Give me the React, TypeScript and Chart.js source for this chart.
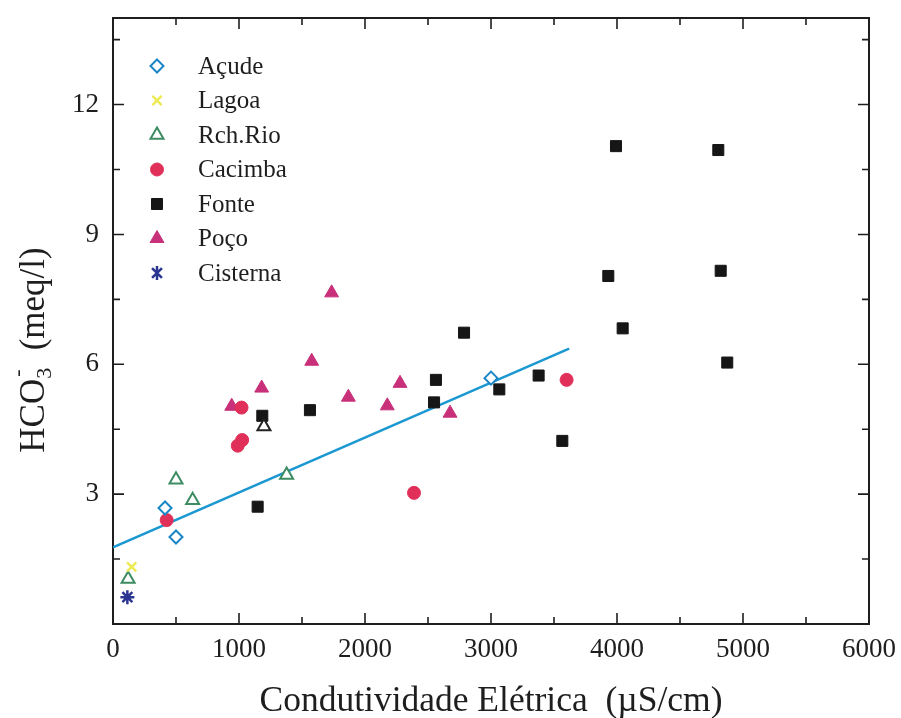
import React, { useEffect, useRef } from 'react';
import { Chart, registerables } from 'chart.js';

Chart.register(...registerables);

// ---- data ----
const xTickValues = [0, 1000, 2000, 3000, 4000, 5000, 6000];
const yTickValues = [3, 6, 9, 12];

const acudeX = [413, 500, 3000];
const acudeY = [2.68, 2.01, 5.68];

const lagoaX = [148];
const lagoaY = [1.32];

const rioX = [120, 500, 632, 1378, 1198];
const rioY = [1.04, 3.33, 2.86, 3.44, 4.56];

const cacimbaX = [426, 990, 1025, 1020, 2389, 3600];
const cacimbaY = [2.40, 4.12, 4.25, 5.00, 3.03, 5.64];

const fonteX = [1148, 1185, 1563, 2563, 2548, 2786, 3066, 3378, 3566, 3992, 4804, 3931, 4823, 4045, 4875];
const fonteY = [2.71, 4.81, 4.94, 5.64, 5.12, 6.73, 5.42, 5.74, 4.23, 11.04, 10.95, 8.04, 8.16, 6.83, 6.04];

const pocoX = [942, 1180, 1577, 1868, 2177, 1735, 2278, 2675];
const pocoY = [5.03, 5.45, 6.07, 5.24, 5.04, 7.65, 5.56, 4.87];

const cisternaX = [114];
const cisternaY = [0.62];

const fitX = [0, 3620];
const fitY = [1.77, 6.36];

const seriesNames = ['Açude', 'Lagoa', 'Rch.Rio', 'Cacimba', 'Fonte', 'Poço', 'Cisterna'];

const xTitle = 'Condutividade Elétrica  (µS/cm)';

const SERIF = "'Liberation Serif', 'Times New Roman', serif";
const INK = '#1e1e1e';

const pts = (xs: number[], ys: number[]) => xs.map((x, i) => ({ x, y: ys[i] }));

type MarkerSpec = { style: string; r: number; fill: string; stroke: string; lw: number };

const markers: MarkerSpec[] = [
  { style: 'rectRot', r: 6.5, fill: '#ffffff', stroke: '#1b86c6', lw: 2 },
  { style: 'crossRot', r: 6.5, fill: '#ecea55', stroke: '#ecea55', lw: 2.5 },
  { style: 'triangle', r: 7.5, fill: '#ffffff', stroke: '#3d8c62', lw: 2 },
  { style: 'circle', r: 6.5, fill: '#e0305a', stroke: '#e0305a', lw: 1 },
  { style: 'rect', r: 7.8, fill: '#161616', stroke: '#161616', lw: 1 },
  { style: 'triangle', r: 8, fill: '#c8307a', stroke: '#c8307a', lw: 1 },
  { style: 'star', r: 7, fill: '#2a3592', stroke: '#2a3592', lw: 2.5 },
];

function drawMarker(ctx: CanvasRenderingContext2D, m: MarkerSpec, x: number, y: number) {
  const r = m.r;
  ctx.save();
  ctx.lineWidth = m.lw;
  ctx.strokeStyle = m.stroke;
  ctx.fillStyle = m.fill;
  ctx.beginPath();
  switch (m.style) {
    case 'rectRot':
      ctx.moveTo(x, y - r);
      ctx.lineTo(x + r, y);
      ctx.lineTo(x, y + r);
      ctx.lineTo(x - r, y);
      ctx.closePath();
      ctx.fill();
      ctx.stroke();
      break;
    case 'rect': {
      const s = r * Math.SQRT1_2;
      ctx.rect(x - s, y - s, 2 * s, 2 * s);
      ctx.fill();
      ctx.stroke();
      break;
    }
    case 'triangle': {
      let a = 0;
      ctx.moveTo(x + Math.sin(a) * r, y - Math.cos(a) * r);
      a += (2 * Math.PI) / 3;
      ctx.lineTo(x + Math.sin(a) * r, y - Math.cos(a) * r);
      a += (2 * Math.PI) / 3;
      ctx.lineTo(x + Math.sin(a) * r, y - Math.cos(a) * r);
      ctx.closePath();
      ctx.fill();
      ctx.stroke();
      break;
    }
    case 'circle':
      ctx.arc(x, y, r, 0, Math.PI * 2);
      ctx.fill();
      ctx.stroke();
      break;
    case 'crossRot': {
      const d = r * Math.SQRT1_2;
      ctx.moveTo(x - d, y - d);
      ctx.lineTo(x + d, y + d);
      ctx.moveTo(x + d, y - d);
      ctx.lineTo(x - d, y + d);
      ctx.stroke();
      break;
    }
    case 'star': {
      const d = r * Math.SQRT1_2;
      ctx.moveTo(x, y - r);
      ctx.lineTo(x, y + r);
      ctx.moveTo(x - d, y - d);
      ctx.lineTo(x + d, y + d);
      ctx.moveTo(x + d, y - d);
      ctx.lineTo(x - d, y + d);
      ctx.stroke();
      break;
    }
  }
  ctx.restore();
}

const framePlugin = {
  id: 'framePlugin',
  beforeDatasetsDraw(chart: any) {
    const { ctx, chartArea: a, scales } = chart;
    const xs = scales.x;
    const ys = scales.y;
    ctx.save();
    ctx.strokeStyle = INK;
    ctx.lineWidth = 2;
    ctx.strokeRect(a.left, a.top, a.right - a.left, a.bottom - a.top);
    ctx.lineWidth = 1.6;
    ctx.beginPath();
    for (let v = 0; v <= 6000; v += 500) {
      const px = xs.getPixelForValue(v);
      const len = v % 1000 === 0 ? 11 : 7;
      ctx.moveTo(px, a.bottom);
      ctx.lineTo(px, a.bottom - len);
      ctx.moveTo(px, a.top);
      ctx.lineTo(px, a.top + len);
    }
    for (let v = 0; v <= 14; v += 1.5) {
      const py = ys.getPixelForValue(v);
      const len = Math.abs(v % 3) < 1e-6 ? 11 : 7;
      ctx.moveTo(a.left, py);
      ctx.lineTo(a.left + len, py);
      ctx.moveTo(a.right, py);
      ctx.lineTo(a.right - len, py);
    }
    ctx.stroke();
    ctx.restore();
  },
  afterDraw(chart: any) {
    const { ctx, chartArea: a } = chart;
    ctx.save();
    // legend
    ctx.font = `25px ${SERIF}`;
    ctx.fillStyle = INK;
    ctx.textBaseline = 'middle';
    ctx.textAlign = 'left';
    seriesNames.forEach((name, i) => {
      const y = 66 + i * 34.5;
      drawMarker(ctx, markers[i], 157, y);
      ctx.fillStyle = INK;
      ctx.fillText(name, 198, y + 1);
    });

    // x title
    ctx.font = `36px ${SERIF}`;
    ctx.textAlign = 'left';
    ctx.textBaseline = 'alphabetic';
    const w = ctx.measureText(xTitle).width;
    const targetW = 463;
    const sx = targetW / w;
    ctx.save();
    ctx.translate((a.left + a.right) / 2 - targetW / 2, 711);
    ctx.scale(sx, 1);
    ctx.fillText(xTitle, 0, 0);
    ctx.restore();

    // y title: HCO3- (meq/l)
    ctx.save();
    ctx.translate(44, 350);
    ctx.rotate(-Math.PI / 2);
    const main = `35px ${SERIF}`;
    const small = `22px ${SERIF}`;
    ctx.font = main;
    const wH = ctx.measureText('HCO').width;
    const wRest = ctx.measureText('  (meq/l)').width;
    ctx.font = small;
    const w3 = ctx.measureText('3').width;
    const total = wH + w3 + wRest;
    let cx = -total / 2;
    ctx.font = main;
    ctx.fillText('HCO', cx, 0);
    cx += wH;
    ctx.font = small;
    ctx.fillText('3', cx, 7);
    ctx.fillText('-', cx + 2, -20);
    cx += w3;
    ctx.font = main;
    ctx.fillText('  (meq/l)', cx, 0);
    ctx.restore();

    ctx.restore();
  },
};

export default function App() {
  const ref = useRef<HTMLCanvasElement | null>(null);

  useEffect(() => {
    document.body.style.margin = '0';
    const canvas = ref.current;
    if (!canvas) return;

    const mk = (label: string, xs: number[], ys: number[], m: MarkerSpec, extra: any = {}) => ({
      label,
      data: pts(xs, ys),
      pointStyle: m.style,
      pointRadius: m.r,
      pointBackgroundColor: m.fill,
      pointBorderColor: m.stroke,
      pointBorderWidth: m.lw,
      showLine: false,
      ...extra,
    });

    const chart = new Chart(canvas, {
      type: 'scatter',
      data: {
        datasets: [
          {
            label: 'fit',
            data: pts(fitX, fitY),
            showLine: true,
            borderColor: '#1b98d2',
            borderWidth: 2.5,
            pointRadius: 0,
            order: 10,
          },
          mk(seriesNames[0], acudeX, acudeY, markers[0]),
          mk(seriesNames[1], lagoaX, lagoaY, markers[1]),
          mk(seriesNames[2], rioX, rioY, markers[2], {
            pointBorderColor: (c: any) => (c.dataIndex === 4 ? '#222222' : markers[2].stroke),
          }),
          mk(seriesNames[3], cacimbaX, cacimbaY, markers[3]),
          mk(seriesNames[4], fonteX, fonteY, markers[4]),
          mk(seriesNames[5], pocoX, pocoY, markers[5]),
          mk(seriesNames[6], cisternaX, cisternaY, markers[6]),
        ] as any,
      },
      options: {
        animation: false,
        responsive: false,
        devicePixelRatio: 1,
        layout: { padding: { top: 18, right: 32, left: 0, bottom: 0 } },
        plugins: {
          legend: { display: false },
          tooltip: { enabled: false },
        },
        scales: {
          x: {
            type: 'linear',
            min: 0,
            max: 6000,
            afterBuildTicks: (s: any) => {
              s.ticks = xTickValues.map((v) => ({ value: v }));
            },
            afterFit: (s: any) => {
              s.height = 94;
              s.paddingLeft = 0;
              s.paddingRight = 0;
            },
            grid: { display: false, drawTicks: false },
            border: { display: false },
            ticks: {
              color: INK,
              font: { family: SERIF, size: 27 },
              padding: 10,
              maxRotation: 0,
              autoSkip: false,
              callback: (v: any) => String(v),
            },
          },
          y: {
            type: 'linear',
            min: 0,
            max: 14,
            afterBuildTicks: (s: any) => {
              s.ticks = yTickValues.map((v) => ({ value: v }));
            },
            afterFit: (s: any) => {
              s.width = 113;
              s.paddingTop = 0;
              s.paddingBottom = 0;
            },
            grid: { display: false, drawTicks: false },
            border: { display: false },
            ticks: {
              color: INK,
              font: { family: SERIF, size: 27 },
              padding: 14,
              callback: (v: any) => String(v),
            },
          },
        },
      } as any,
      plugins: [framePlugin],
    });

    return () => chart.destroy();
  }, []);

  return (
    <div style={{ width: 901, height: 718, background: '#ffffff' }}>
      <canvas ref={ref} width={901} height={718} style={{ display: 'block' }} />
    </div>
  );
}
